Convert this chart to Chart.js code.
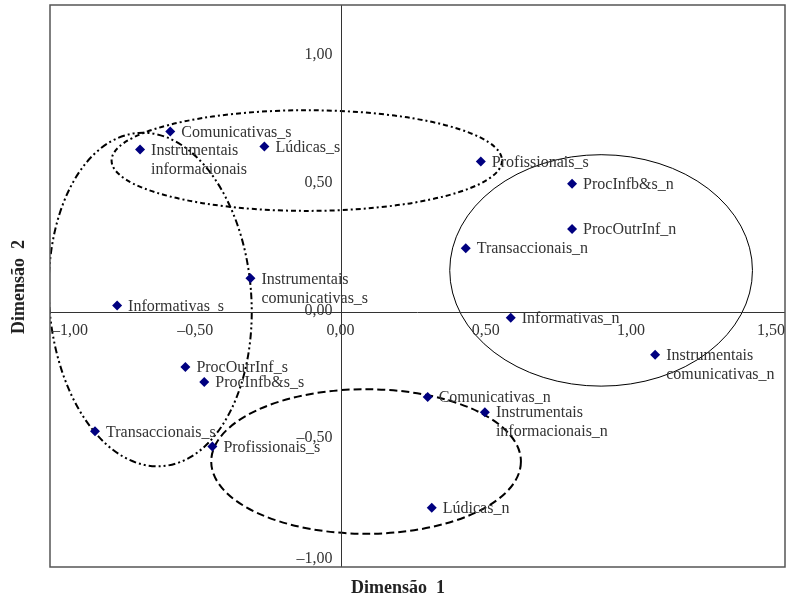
<!DOCTYPE html>
<html lang="pt">
<head>
<meta charset="UTF-8">
<title>Dimensão 1 x Dimensão 2</title>
<script src="https://cdn.jsdelivr.net/npm/chart.js"></script>
<style>
    body { margin: 0; background: #fff; }
    #wrap { width: 790px; height: 602px; }
</style>
</head>
<body>
<div id="wrap"><canvas id="mapa" width="790" height="602"></canvas></div>
<script>
// categories and coordinates (dimension 1, dimension 2)
const pointNames = [
    "Comunicativas_s", "Instrumentais\ninformacionais", "Lúdicas_s", "Profissionais_s",
    "ProcInfb&s_n", "ProcOutrInf_n", "Transaccionais_n", "Instrumentais\ncomunicativas_s",
    "Informativas_s", "Informativas_n", "Instrumentais\ncomunicativas_n", "ProcOutrInf_s",
    "ProcInfb&s_s", "Comunicativas_n", "Instrumentais\ninformacionais_n", "Transaccionais_s",
    "Profissionais_s", "Lúdicas_n"
];
const dim1 = [-0.586, -0.690, -0.262, 0.483, 0.797, 0.797, 0.431, -0.310, -0.769,
              0.586, 1.083, -0.534, -0.469, 0.300, 0.497, -0.845, -0.441, 0.314];
const dim2 = [0.705, 0.634, 0.646, 0.587, 0.500, 0.323, 0.248, 0.130, 0.024,
              -0.024, -0.169, -0.217, -0.276, -0.335, -0.394, -0.469, -0.528, -0.768];

const xTicks = [-1.0, -0.5, 0.0, 0.5, 1.0, 1.5];
const yTicks = [-1.0, -0.5, 0.0, 0.5, 1.0];

// group ellipses in data units: centre, semi-axes, rotation (rad)
const groupCx = [-0.116, -0.655, 0.897, 0.088];
const groupCy = [0.591, 0.047, 0.161, -0.587];
const groupRx = [0.672, 0.348, 0.521, 0.533];
const groupRy = [0.197, 0.654, 0.453, 0.283];
const groupRot = [0, -0.07, 0, 0];
const groupDash = [[5, 3, 2, 3], [7, 3, 2, 3, 2, 3], [], [8, 4]];
const groupWidth = [2, 2, 1, 2];

const points = dim1.map((x, i) => ({ x: x, y: dim2[i] }));

const fmt = v => v.toFixed(2).replace(".", ",").replace("-", "–");
const serif = '"Liberation Serif", "Times New Roman", serif';

const decor = {
    id: "decor",
    beforeDatasetsDraw(chart) {
        const { ctx, chartArea: a, scales: { x, y } } = chart;
        ctx.save();
        ctx.beginPath();
        ctx.rect(a.left, a.top, a.right - a.left, a.bottom - a.top);
        ctx.clip();
        // ellipses
        groupCx.forEach((cx, i) => {
            const px = x.getPixelForValue(cx);
            const py = y.getPixelForValue(groupCy[i]);
            const rx = Math.abs(x.getPixelForValue(cx + groupRx[i]) - px);
            const ry = Math.abs(y.getPixelForValue(groupCy[i] + groupRy[i]) - py);
            ctx.beginPath();
            ctx.ellipse(px, py, rx, ry, groupRot[i], 0, Math.PI * 2);
            ctx.setLineDash(groupDash[i]);
            ctx.lineWidth = groupWidth[i];
            ctx.strokeStyle = "#000";
            ctx.stroke();
        });
        ctx.setLineDash([]);
        // zero axes
        const x0 = x.getPixelForValue(0), y0 = y.getPixelForValue(0);
        ctx.strokeStyle = "#333";
        ctx.lineWidth = 1;
        ctx.beginPath();
        ctx.moveTo(Math.round(x0) + 0.5, a.top);
        ctx.lineTo(Math.round(x0) + 0.5, a.bottom);
        ctx.moveTo(a.left, Math.round(y0) + 0.5);
        ctx.lineTo(a.right, Math.round(y0) + 0.5);
        ctx.stroke();
        ctx.restore();

        // frame
        ctx.save();
        ctx.strokeStyle = "#555";
        ctx.lineWidth = 1.5;
        ctx.strokeRect(a.left, a.top, a.right - a.left, a.bottom - a.top);

        // tick labels
        ctx.font = "16px " + serif;
        ctx.fillStyle = "#333";
        ctx.textBaseline = "middle";
        xTicks.forEach(v => {
            const t = fmt(v);
            const w = ctx.measureText(t).width;
            let px = x.getPixelForValue(v) - w / 2;
            px = Math.max(a.left + 2, Math.min(a.right - w, px));
            ctx.textAlign = "left";
            ctx.fillText(t, px, y0 + 19);
        });
        ctx.textAlign = "right";
        yTicks.forEach(v => {
            let py = y.getPixelForValue(v) - 1;
            py = Math.min(a.bottom - 8, py);
            ctx.fillText(fmt(v), x0 - 8, py);
        });

        // axis titles
        ctx.fillStyle = "#222";
        ctx.font = "bold 18px " + serif;
        ctx.textAlign = "center";
        ctx.fillText("Dimensão  1", 398, 588);
        ctx.translate(19, 287);
        ctx.rotate(-Math.PI / 2);
        ctx.fillText("Dimensão  2", 0, 0);
        ctx.restore();
    },
    afterDatasetsDraw(chart) {
        const { ctx, scales: { x, y } } = chart;
        ctx.save();
        ctx.font = "16px " + serif;
        ctx.fillStyle = "#333";
        ctx.textAlign = "left";
        ctx.textBaseline = "middle";
        pointNames.forEach((name, i) => {
            const px = x.getPixelForValue(dim1[i]) + 11;
            const py = y.getPixelForValue(dim2[i]) + 1;
            name.split("\n").forEach((line, k) => ctx.fillText(line, px, py + k * 19));
        });
        ctx.restore();
    }
};

new Chart(document.getElementById("mapa"), {
    type: "scatter",
    data: {
        datasets: [{
            data: points,
            pointStyle: "rectRot",
            pointRadius: 5,
            backgroundColor: "#000080",
            borderColor: "#000080",
            borderWidth: 0
        }]
    },
    options: {
        responsive: false,
        animation: false,
        layout: { padding: { left: 50, right: 4, top: 5, bottom: 35 } },
        plugins: { legend: { display: false }, tooltip: { enabled: false } },
        scales: {
            x: { type: "linear", min: -1.0, max: 1.53, display: false },
            y: { type: "linear", min: -1.0, max: 1.2, display: false }
        }
    },
    plugins: [decor]
});
</script>
</body>
</html>
